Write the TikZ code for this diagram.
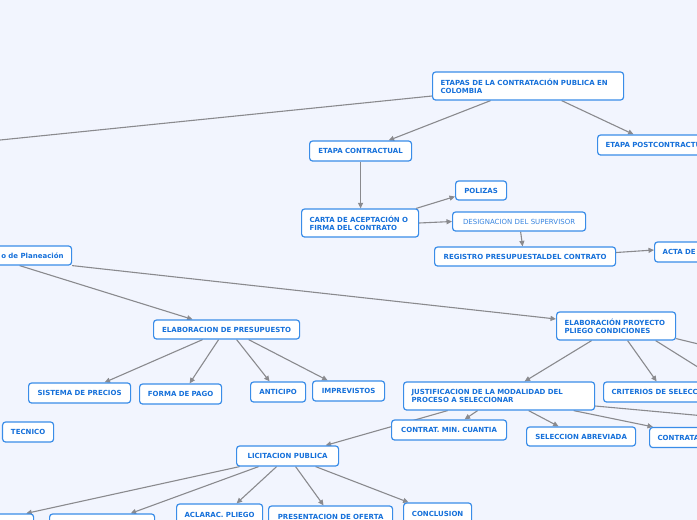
\documentclass[tikz,border=0pt]{standalone}
\usepackage{fontspec}
\setmainfont{DejaVu Sans}
\usetikzlibrary{arrows.meta,backgrounds}
\definecolor{bgc}{HTML}{F2F5FE}
\definecolor{boxblue}{HTML}{3A8DE8}
\definecolor{txtblue}{HTML}{1570DA}
\definecolor{edgegray}{HTML}{8A8A8E}
\tikzset{
  box/.style={draw=boxblue, fill=white, rounded corners=3pt, line width=1.2pt,
    text=txtblue, font=\fontsize{7}{8}\selectfont\bfseries, inner xsep=8pt, inner ysep=0pt,
    anchor=west, align=center},
  lbox/.style={box, align=left},
  edge/.style={draw=edgegray, line width=1.1pt, -{Triangle[length=5.5pt,width=5pt]}},
}
\begin{document}
\begin{tikzpicture}[x=1pt,y=-1pt]
\useasboundingbox (0,0) rectangle (697,520);
\begin{pgfonlayer}{background}
\fill[bgc] (-200,-50) rectangle (900,600);
\end{pgfonlayer}

% nodes (x = left edge, y = centre)
\node[lbox, text width=175pt, minimum height=28pt] (etapas) at (432,86) {ETAPAS DE LA CONTRATACIÓN PUBLICA EN\\COLOMBIA};
\node[box, text width=86pt, minimum height=20pt] (contractual) at (309,151) {ETAPA CONTRACTUAL};
\node[lbox, text width=114pt, minimum height=20pt] (post) at (597,145) {ETAPA POSTCONTRACTUAL};
\node[lbox, text width=101pt, minimum height=28pt] (carta) at (301,223) {CARTA DE ACEPTACIÓN O\\FIRMA DEL CONTRATO};
\node[box, text width=35pt, minimum height=19pt] (polizas) at (455,190.5) {POLIZAS};
\node[box, text width=117pt, minimum height=19pt, font=\fontsize{7}{8}\selectfont, text=txtblue!85!white] (desig) at (452,221.5) {DESIGNACION DEL SUPERVISOR};
\node[box, text width=165pt, minimum height=19pt] (registro) at (434,256.5) {REGISTRO PRESUPUESTALDEL CONTRATO};
\node[lbox, text width=84pt, minimum height=20pt] (acta) at (654,252) {ACTA DE};

\node[box, align=right, text width=115pt, minimum height=19pt] (plan) at (-60,255.5) {o de Planeación};
\node[box, text width=130pt, minimum height=19pt] (presup) at (153,329.5) {ELABORACION DE PRESUPUESTO};
\node[box, text width=86pt, minimum height=20pt] (sistema) at (28,393) {SISTEMA DE PRECIOS};
\node[box, text width=66pt, minimum height=20pt] (forma) at (139,394) {FORMA DE PAGO};
\node[box, text width=39pt, minimum height=20pt] (anticipo) at (250,392) {ANTICIPO};
\node[box, text width=56pt, minimum height=20pt] (imprev) at (312,391) {IMPREVISTOS};
\node[box, text width=35pt, minimum height=20pt] (tecnico) at (2,432) {TECNICO};

\node[lbox, text width=103pt, minimum height=28pt] (proy) at (556,326) {ELABORACIÓN PROYECTO\\PLIEGO CONDICIONES};
\node[lbox, text width=175pt, minimum height=28pt] (justif) at (403,396) {JUSTIFICACION DE LA MODALIDAD DEL\\PROCESO A SELECCIONAR};
\node[lbox, text width=124pt, minimum height=20pt] (criterios) at (603,392) {CRITERIOS DE SELECCION};
\node[box, text width=99pt, minimum height=20pt] (minc) at (391,430) {CONTRAT. MIN. CUANTIA};
\node[box, text width=93pt, minimum height=19pt] (selab) at (526,436.5) {SELECCION ABREVIADA};
\node[lbox, text width=124pt, minimum height=20pt] (contrata) at (649,437.5) {CONTRATACION DIRECTA};

\node[box, text width=86pt, minimum height=20pt] (licit) at (236,456) {LICITACION PUBLICA};
\node[box, text width=57pt, minimum height=20pt] (boxa) at (-40,524) {};
\node[box, text width=89pt, minimum height=20pt] (boxb) at (49,524) {};
\node[box, inner xsep=3pt, text width=80pt, minimum height=22pt] (aclarac) at (176,515) {ACLARAC. PLIEGO};
\node[box, text width=108pt, minimum height=22pt] (present) at (268,517) {PRESENTACION DE OFERTA};
\node[box, text width=52pt, minimum height=22pt] (concl) at (403,514) {CONCLUSION};

\coordinate (offL) at (-100,150.2);
\coordinate (offR1) at (760,406);
\coordinate (offR2) at (760,359);
\coordinate (offR3) at (760,421);

\begin{pgfonlayer}{background}
\draw[edge] ([yshift=-10pt]etapas.west) -- (offL);
\draw[edge] ([xshift=-37.5pt]etapas.south) -- ([xshift=28pt]contractual.north);
\draw[edge] ([xshift=33.5pt]etapas.south) -- ([xshift=-29pt]post.north);
\draw[edge] (contractual.south) -- (contractual.south |- carta.north);
\draw[edge] ([xshift=-3pt]carta.north east) -- ([yshift=-6pt]polizas.west);
\draw[edge] (carta.east) -- (desig.west);
\draw[edge] ([xshift=1.5pt]desig.south) -- ([xshift=-2.5pt]registro.north);
\draw[edge] ([yshift=4pt]registro.east) -- ([yshift=2pt]acta.west);

\draw[edge] ([xshift=13.5pt]plan.south) -- ([xshift=-34pt]presup.north);
\draw[edge] (plan.south east) -- ([yshift=7pt]proy.west);
\draw[edge] ([xshift=-24pt]presup.south) -- ([xshift=25pt]sistema.north);
\draw[edge] ([xshift=-8pt]presup.south) -- ([xshift=9pt]forma.north);
\draw[edge] ([xshift=10pt]presup.south) -- ([xshift=-8.5pt]anticipo.north);
\draw[edge] ([xshift=22pt]presup.south) -- ([xshift=-21pt]imprev.north);

\draw[edge] ([xshift=-24.5pt]proy.south) -- ([xshift=25.5pt]justif.north);
\draw[edge] ([xshift=11.5pt]proy.south) -- ([xshift=-17pt]criterios.north);
\draw[edge] ([xshift=39.5pt]proy.south) -- (offR1);
\draw[edge] ([yshift=2pt]proy.south east) -- (offR2);

\draw[edge] ([xshift=-51.5pt]justif.south) -- ([xshift=38pt]licit.north);
\draw[edge] ([xshift=-21.5pt]justif.south) -- ([xshift=15.5pt]minc.north);
\draw[edge] ([xshift=29.5pt]justif.south) -- ([xshift=-22.5pt]selab.north);
\draw[edge] ([xshift=74.5pt]justif.south) -- ([xshift=4pt]contrata.north west);
\draw[edge] ([yshift=-10pt]justif.east) -- (offR3);

\draw[edge] ([xshift=-48pt]licit.south) -- ([xshift=-8pt]boxa.north east);
\draw[edge] ([xshift=-29pt]licit.south) -- ([xshift=28.5pt]boxb.north);
\draw[edge] ([xshift=-11pt]licit.south) -- ([xshift=17pt]aclarac.north);
\draw[edge] ([xshift=8pt]licit.south) -- ([xshift=-7pt]present.north);
\draw[edge] ([xshift=28pt]licit.south) -- ([xshift=-29pt]concl.north);
\end{pgfonlayer}
\end{tikzpicture}
\end{document}
